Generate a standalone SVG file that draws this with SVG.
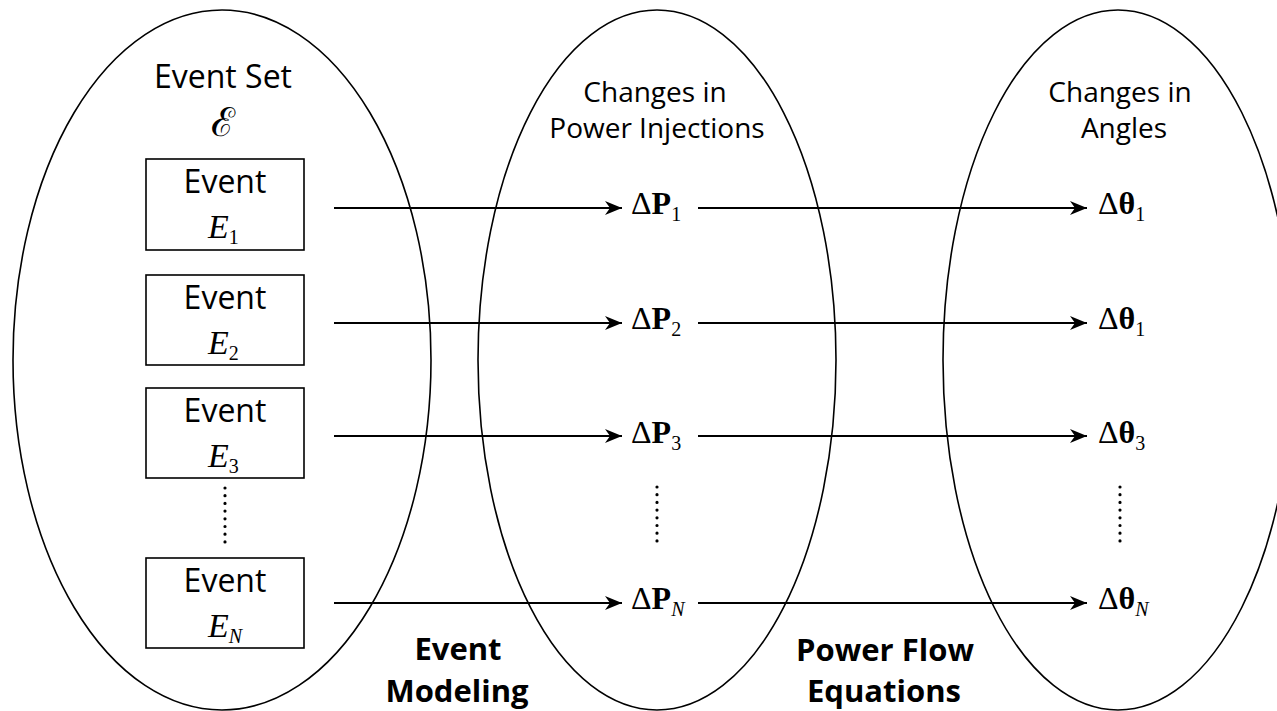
<svg xmlns="http://www.w3.org/2000/svg" width="1277" height="711" viewBox="0 0 1277 711">
<style>
.ell{fill:none;stroke:#000;stroke-width:1.6}
.box{fill:#fff;stroke:#000;stroke-width:1.6}
.sans{font-family:"Open Sans","Noto Sans","Liberation Sans",sans-serif;fill:#000}
.bold{font-family:"Open Sans","Noto Sans","Liberation Sans",sans-serif;font-weight:bold;font-size:31px;fill:#000}
.ser{font-family:"Liberation Serif","Times New Roman",serif;fill:#000}
.it{font-style:italic}
.con{stroke:#000;stroke-width:2;fill:none;marker-end:url(#ah)}
.dots{stroke:#000;stroke-width:3.2;stroke-linecap:round;stroke-dasharray:0 7.7;fill:none}
</style>
<defs>
<marker id="ah" markerUnits="userSpaceOnUse" markerWidth="20" markerHeight="16" refX="17" refY="7" orient="auto">
<path d="M0,0 L17,7 L0,14 L5,7 z" fill="#000"/>
</marker>
</defs>
<rect width="1277" height="711" fill="#fff"/>
<g id="set-events">
<ellipse class="ell" cx="222" cy="360" rx="209" ry="350"/>
<text class="sans" x="223" y="88" font-size="32" text-anchor="middle">Event Set</text>
<text x="223" y="136" font-family="DejaVu Serif,serif" font-size="40" text-anchor="middle">ℰ</text>
</g>
<g id="set-power">
<ellipse class="ell" cx="657" cy="360" rx="179" ry="350"/>
<text class="sans" x="655" y="102" font-size="28" text-anchor="middle">Changes in</text>
<text class="sans" x="657" y="138" font-size="28" text-anchor="middle">Power Injections</text>
</g>
<g id="set-angles">
<ellipse class="ell" cx="1118" cy="360" rx="175" ry="350"/>
<text class="sans" x="1120" y="102" font-size="28" text-anchor="middle">Changes in</text>
<text class="sans" x="1124" y="138" font-size="28" text-anchor="middle">Angles</text>
</g>
<g id="event1">
<rect class="box" x="146" y="159" width="158" height="91"/>
<text class="sans" x="225" y="193" font-size="32" text-anchor="middle">Event</text>
<text class="ser it" x="208" y="238" font-size="34">E<tspan font-size="20" font-style="normal" dy="6">1</tspan></text>
</g>
<g id="event2">
<rect class="box" x="146" y="275" width="158" height="90"/>
<text class="sans" x="225" y="309" font-size="32" text-anchor="middle">Event</text>
<text class="ser it" x="208" y="354" font-size="34">E<tspan font-size="20" font-style="normal" dy="6">2</tspan></text>
</g>
<g id="event3">
<rect class="box" x="146" y="388" width="158" height="90"/>
<text class="sans" x="225" y="422" font-size="32" text-anchor="middle">Event</text>
<text class="ser it" x="208" y="467" font-size="34">E<tspan font-size="20" font-style="normal" dy="6">3</tspan></text>
</g>
<g id="eventN">
<rect class="box" x="146" y="558" width="158" height="90"/>
<text class="sans" x="225" y="592" font-size="32" text-anchor="middle">Event</text>
<text class="ser it" x="208" y="637" font-size="34">E<tspan font-size="20" dy="6">N</tspan></text>
</g>
<g id="dP">
<text class="ser" x="631" y="214" font-size="32">Δ<tspan font-weight="bold">P</tspan><tspan font-size="20" dy="7">1</tspan></text>
<text class="ser" x="631" y="329" font-size="32">Δ<tspan font-weight="bold">P</tspan><tspan font-size="20" dy="7">2</tspan></text>
<text class="ser" x="631" y="443" font-size="32">Δ<tspan font-weight="bold">P</tspan><tspan font-size="20" dy="7">3</tspan></text>
<text class="ser" x="631" y="609" font-size="32">Δ<tspan font-weight="bold">P</tspan><tspan font-size="20" font-style="italic" dy="7">N</tspan></text>
</g>
<g id="dTheta">
<text class="ser" x="1098" y="214" font-size="32">Δ<tspan font-weight="bold">θ</tspan><tspan font-size="20" dy="7">1</tspan></text>
<text class="ser" x="1098" y="329" font-size="32">Δ<tspan font-weight="bold">θ</tspan><tspan font-size="20" dy="7">1</tspan></text>
<text class="ser" x="1098" y="443" font-size="32">Δ<tspan font-weight="bold">θ</tspan><tspan font-size="20" dy="7">3</tspan></text>
<text class="ser" x="1098" y="609" font-size="32">Δ<tspan font-weight="bold">θ</tspan><tspan font-size="20" font-style="italic" dy="7">N</tspan></text>
</g>
<g id="labels">
<text class="bold" x="458" y="660" text-anchor="middle">Event</text>
<text class="bold" x="457" y="702" text-anchor="middle">Modeling</text>
<text class="bold" x="885" y="661" text-anchor="middle">Power Flow</text>
<text class="bold" x="884" y="702" text-anchor="middle">Equations</text>
</g>
<g id="ellipsis">
<path class="dots" d="M225,488 V543"/>
<path class="dots" d="M657,487 V541"/>
<path class="dots" d="M1120,487 V541"/>
</g>
<g id="connectors">
<path class="con" d="M334,208 H622"/>
<path class="con" d="M334,323 H622"/>
<path class="con" d="M334,436 H622"/>
<path class="con" d="M334,603 H622"/>
<path class="con" d="M698,208 H1087"/>
<path class="con" d="M698,323 H1087"/>
<path class="con" d="M698,436 H1087"/>
<path class="con" d="M698,603 H1087"/>
</g>
</svg>
